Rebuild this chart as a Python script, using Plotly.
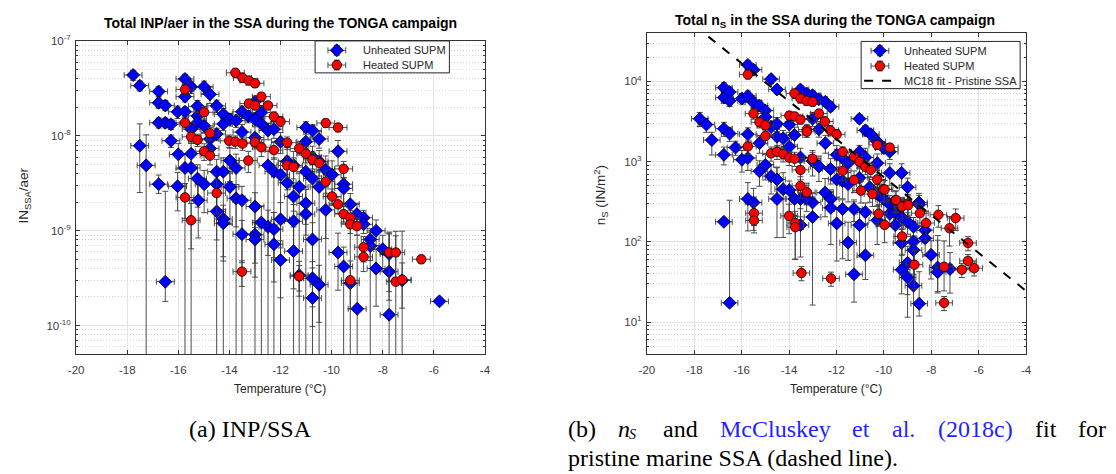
import plotly.graph_objects as go

# ---------------- Panel (a): INP per aerosol (IN_SSA/aer) ----------------
a_unh_T = [-17.77, -17.51, -16.77, -16.77, -16.51, -16.77, -16.51, -16.29, -16.29, -17.51,
           -17.26, -16.03, -16.00, -15.74, -15.74, -15.74, -15.74, -16.77, -16.03, -15.50,
           -15.50, -15.50, -15.50, -15.25, -15.25, -15.25, -15.25, -14.99, -14.99, -14.99,
           -14.76, -14.76, -14.76, -14.50, -14.50, -14.50, -14.50, -14.24, -14.24, -14.24,
           -13.98, -13.98, -13.98, -13.74, -13.74, -13.51, -13.51, -13.26, -13.00, -13.00,
           -13.00, -12.75, -12.75, -12.49, -12.49, -12.26, -12.26, -12.00, -12.00, -11.74,
           -11.74, -11.49, -11.27, -11.01, -11.01, -11.01, -10.75, -10.75, -10.75, -10.49,
           -10.49, -10.49, -10.23, -9.98, -9.75, -9.53, -16.51, -15.22, -14.50, -14.24,
           -14.24, -13.74, -13.51, -13.51, -13.00, -13.00, -13.00, -12.75, -12.49, -12.26,
           -12.26, -12.00, -12.00, -11.49, -11.49, -11.27, -11.01, -11.01, -10.75, -10.75,
           -10.75, -10.49, -10.23, -9.75, -9.53, -9.53, -9.27, -9.27, -9.01, -9.00,
           -8.75, -8.75, -8.49, -8.49, -8.26, -8.26, -8.00, -7.75, -7.75, -7.75,
           -7.24, -5.78, -11.49]
a_unh_val = [4.4e-8, 3.4e-8, 2.95e-8, 2.24e-8, 2.1e-8, 1.38e-8, 1.38e-8, 1.33e-8, 8.9e-9, 7.9e-9,
             4.9e-9, 1.8e-8, 6.4e-9, 4.0e-8, 2.6e-8, 1.8e-8, 4.6e-9, 3.1e-9, 2.95e-9, 3.3e-8,
             1.18e-8, 6.5e-9, 4.6e-9, 2.06e-8, 1.63e-8, 1.39e-8, 3.55e-9, 3.3e-8, 1.28e-8, 3.1e-9,
             2.75e-8, 9.3e-9, 7.4e-9, 2.08e-8, 1.05e-8, 4.2e-9, 3.1e-9, 1.7e-8, 1.34e-8, 4.2e-9,
             1.5e-8, 5.5e-9, 2.9e-9, 1.45e-8, 4.6e-9, 1.8e-8, 1.1e-8, 1.62e-8, 2.3e-8, 1.5e-8,
             9.6e-9, 1.77e-8, 1.35e-8, 1.14e-8, 4.9e-9, 1.18e-8, 4.2e-9, 8.7e-9, 3.9e-9, 5.4e-9,
             3.2e-9, 4.9e-9, 2.9e-9, 1.23e-8, 8.7e-9, 4.2e-9, 1.14e-8, 6.0e-9, 3.55e-9, 9.3e-9,
             5.4e-9, 2.9e-9, 4.4e-9, 3.9e-9, 6.9e-9, 3.1e-9, 2.9e-10, 2.1e-9, 1.6e-9, 1.33e-9,
             1.2e-9, 2.2e-9, 2.1e-9, 9.2e-10, 1.8e-9, 9.1e-10, 8.1e-10, 1.22e-9, 1.1e-9, 1.04e-9,
             7.2e-10, 1.32e-9, 4.9e-10, 1.26e-9, 6.1e-10, 3.4e-10, 1.95e-9, 1.5e-9, 8.1e-10, 3.15e-10,
             1.95e-10, 2.7e-10, 1.66e-9, 5.9e-10, 4.2e-10, 2.8e-9, 1.9e-9, 2.8e-10, 1.5e-9, 1.5e-10,
             1.37e-9, 1.17e-9, 8.1e-10, 6.9e-10, 1.0e-9, 4.0e-10, 6.4e-10, 5.7e-10, 3.7e-10, 1.3e-10,
             3.0e-10, 1.8e-10, 2.3e-9]
# relative upper / lower uncertainty (1.0 = lower bound at or below zero)
a_unh_up = [0.12, 0.12, 0.12, 0.12, 0.12, 0.12, 0.12, 0.12, 0.15, 0.70,
            1.10, 0.15, 0.30, 0.12, 0.12, 0.12, 0.40, 0.25, 0.40, 0.15,
            0.15, 0.30, 0.35, 0.15, 0.15, 0.15, 0.40, 0.15, 0.15, 0.40,
            0.20, 0.20, 0.20, 0.15, 0.15, 0.35, 0.40, 0.15, 0.15, 0.40,
            0.15, 0.35, 0.40, 0.15, 0.40, 0.15, 0.20, 0.15, 0.15, 0.15,
            0.30, 0.15, 0.15, 0.20, 0.40, 0.20, 0.40, 0.25, 0.40, 0.40,
            0.50, 0.40, 0.40, 0.15, 0.30, 0.40, 0.15, 0.30, 0.40, 0.20,
            0.30, 0.50, 0.40, 0.40, 0.30, 0.40, 8.00, 0.50, 0.50, 0.40,
            0.40, 0.40, 0.40, 0.40, 0.40, 0.40, 0.50, 0.50, 0.50, 0.50,
            0.50, 0.50, 0.60, 0.50, 0.80, 0.40, 0.40, 0.40, 0.50, 0.50,
            0.50, 0.60, 0.50, 0.60, 0.60, 0.30, 0.30, 3.00, 0.30, 5.00,
            0.20, 0.20, 0.30, 0.40, 0.30, 0.60, 0.40, 0.70, 1.50, 2.00,
            2.30, 0.08, 0.30]
a_unh_lo = [0.12, 0.12, 0.12, 0.12, 0.12, 0.12, 0.12, 0.12, 0.15, 0.68,
            1.00, 0.15, 0.30, 0.12, 0.12, 0.12, 1.00, 0.20, 0.45, 0.15,
            0.15, 0.30, 1.00, 0.15, 0.15, 0.15, 0.50, 0.15, 0.15, 0.50,
            0.20, 0.20, 0.20, 0.15, 0.15, 0.45, 1.00, 0.15, 0.15, 1.00,
            0.15, 0.40, 0.60, 0.15, 1.00, 0.15, 0.20, 0.15, 0.15, 0.15,
            1.00, 0.15, 0.15, 0.20, 1.00, 0.20, 1.00, 0.25, 1.00, 0.50,
            0.60, 1.00, 1.00, 0.15, 0.30, 1.00, 0.15, 0.30, 1.00, 0.20,
            0.30, 1.00, 1.00, 0.50, 0.30, 0.60, 0.38, 0.60, 0.50, 0.60,
            0.60, 0.50, 1.00, 0.50, 0.40, 0.50, 0.60, 1.00, 0.50, 0.50,
            0.60, 0.50, 0.60, 0.50, 0.60, 0.40, 0.40, 0.40, 0.50, 0.50,
            0.50, 0.60, 0.50, 0.60, 1.00, 0.30, 0.30, 1.00, 0.30, 1.00,
            0.20, 0.20, 0.40, 1.00, 0.30, 0.60, 0.40, 0.60, 0.50, 1.00,
            1.00, 0.08, 0.30]

a_heat_T = [-13.77, -13.49, -13.24, -13.00, -12.75, -13.24, -13.00, -12.49, -12.26, -12.00,
            -10.23, -9.75, -15.74, -15.74, -15.50, -15.25, -14.99, -14.76, -14.99, -14.76,
            -14.01, -13.77, -13.49, -13.00, -12.75, -12.26, -13.26, -11.74, -11.27, -11.01,
            -10.75, -10.49, -11.74, -11.49, -10.23, -9.53, -9.98, -9.75, -15.74, -14.50,
            -15.50, -13.51, -11.27, -9.53, -9.27, -9.27, -9.01, -8.75, -8.75, -9.27,
            -7.75, -7.49, -7.49, -7.24, -6.49]
a_heat_val = [4.65e-8, 4.1e-8, 3.85e-8, 3.6e-8, 2.6e-8, 2.2e-8, 2.1e-8, 2.1e-8, 1.6e-8, 1.42e-8,
              1.37e-8, 1.23e-8, 3.1e-8, 1.38e-8, 9.8e-9, 9.1e-9, 1.78e-8, 1.07e-8, 6.9e-9, 6.2e-9,
              8.9e-9, 8.7e-9, 8.3e-9, 8.6e-9, 7.6e-9, 7.1e-9, 5.5e-9, 8.5e-9, 7.4e-9, 6.5e-9,
              5.6e-9, 5.2e-9, 4.9e-9, 4.7e-9, 3.3e-9, 4.5e-9, 2.3e-9, 1.9e-9, 2.25e-9, 2.5e-9,
              1.29e-9, 3.7e-10, 3.3e-10, 1.5e-9, 1.37e-9, 1.17e-9, 1.12e-9, 6.7e-10, 5.3e-10, 3.0e-10,
              5.9e-10, 5.9e-10, 2.9e-10, 3.05e-10, 5.0e-10]
a_heat_up = [0.10, 0.10, 0.10, 0.10, 0.10, 0.10, 0.10, 0.10, 0.12, 0.12,
             0.10, 0.10, 0.12, 0.12, 0.15, 0.15, 0.15, 0.15, 0.20, 0.20,
             0.15, 0.15, 0.15, 0.15, 0.20, 0.20, 0.25, 0.15, 0.15, 0.20,
             0.20, 0.20, 0.25, 0.25, 0.30, 0.20, 0.20, 0.20, 0.40, 0.40,
             0.50, 0.30, 0.30, 0.20, 0.20, 0.20, 0.20, 0.30, 0.30, 0.60,
             0.60, 0.50, 2.40, 0.50, 0.10]
a_heat_lo = [0.10, 0.10, 0.10, 0.10, 0.10, 0.10, 0.10, 0.10, 0.12, 0.12,
             0.10, 0.10, 0.12, 0.12, 0.15, 0.15, 0.15, 0.15, 0.20, 0.20,
             0.15, 0.15, 0.15, 0.15, 0.20, 0.20, 0.25, 0.15, 0.15, 0.20,
             0.20, 0.20, 0.25, 0.25, 0.30, 0.20, 0.20, 0.20, 0.40, 0.40,
             0.50, 0.30, 0.30, 0.20, 0.20, 0.20, 0.20, 0.30, 0.30, 0.50,
             0.50, 0.50, 1.00, 0.50, 0.10]

# ---------------- Panel (b): ice-active surface site density n_S ----------------
b_unh_T = [-17.77, -17.49, -17.26, -16.75, -16.75, -16.51, -16.51, -16.75, -16.51, -16.75,
           -16.26, -15.99, -15.99, -15.74, -15.74, -15.74, -15.74, -15.50, -15.50, -15.25,
           -15.25, -15.25, -15.00, -15.00, -15.00, -14.76, -14.76, -14.76, -14.51, -14.51,
           -14.51, -14.51, -14.25, -13.99, -13.99, -13.77, -13.52, -13.52, -13.26, -13.01,
           -13.01, -13.01, -12.74, -12.74, -12.74, -12.47, -12.47, -12.25, -12.25, -11.99,
           -11.99, -11.74, -11.74, -11.51, -11.51, -11.03, -11.03, -10.78, -10.78, -10.55,
           -10.28, -10.28, -10.00, -9.75, -9.75, -9.25, -9.00, -8.52, -11.03, -10.60,
           -10.18, -16.75, -16.51, -15.74, -15.50, -14.51, -14.25, -13.99, -13.77, -13.52,
           -13.52, -13.01, -13.01, -12.48, -12.24, -12.24, -11.99, -11.74, -11.51, -11.26,
           -11.26, -11.03, -10.78, -10.78, -10.28, -10.28, -10.00, -9.75, -9.75, -9.52,
           -9.52, -9.25, -9.25, -9.25, -9.00, -9.00, -9.00, -8.75, -8.75, -8.75,
           -8.75, -8.51, -8.51, -8.26, -8.26, -8.01, -7.73, -7.73, -7.21, -13.26,
           -9.48, -9.25]
b_unh_val = [3430, 2900, 1860, 8350, 6300, 7400, 5740, 2580, 2240, 1217,
             1500, 6140, 1060, 16100, 6600, 2200, 1110, 14000, 5480, 5000,
             1700, 760, 4340, 3600, 910, 10700, 2700, 660, 7950, 2960,
             2040, 600, 1960, 2900, 1540, 2150, 7950, 1130, 7100, 6740,
             3430, 1020, 6020, 2530, 870, 5580, 1700, 4840, 810, 1220,
             600, 1110, 575, 960, 525, 3430, 1330, 2460, 1130, 2200,
             1780, 960, 1480, 1330, 725, 725, 480, 310, 630, 480,
             376, 178, 17.4, 343, 310, 343, 455, 441, 343, 343,
             162, 310, 204, 412, 343, 266, 170, 257, 98, 257,
             39.5, 162, 235, 68, 400, 186, 343, 292, 224, 235,
             162, 204, 97, 45, 178, 55, 36, 155, 101, 79,
             28.5, 292, 17, 140, 111, 69, 48, 42, 46, 343,
             288, 275]
b_unh_up = [0.20, 0.20, 0.25, 0.15, 0.15, 0.15, 0.15, 0.20, 0.20, 0.25,
            0.20, 0.15, 0.30, 0.12, 0.15, 0.20, 0.30, 0.12, 0.15, 0.15,
            0.25, 0.35, 0.15, 0.20, 0.35, 0.12, 0.20, 0.40, 0.12, 0.20,
            0.25, 0.40, 0.25, 0.20, 0.25, 0.25, 0.12, 0.30, 0.12, 0.12,
            0.20, 0.35, 0.12, 0.20, 0.35, 0.12, 0.25, 0.12, 0.35, 0.30,
            0.40, 0.30, 0.40, 0.35, 0.40, 0.12, 0.20, 0.15, 0.30, 0.15,
            0.20, 0.30, 0.15, 0.20, 0.30, 0.30, 0.30, 0.30, 0.30, 0.35,
            0.40, 0.10, 18.0, 0.60, 0.50, 1.50, 0.60, 0.30, 0.30, 0.30,
            0.60, 0.30, 0.70, 0.50, 0.30, 0.60, 0.50, 0.30, 0.80, 0.30,
            7.00, 0.60, 0.30, 1.50, 0.30, 0.50, 0.30, 0.30, 0.30, 0.30,
            0.40, 0.30, 0.50, 0.50, 0.30, 0.60, 0.60, 0.30, 0.50, 0.50,
            2.00, 0.30, 1.50, 0.30, 0.40, 0.50, 1.50, 1.50, 0.60, 0.30,
            0.25, 0.25]
b_unh_lo = [0.20, 0.20, 0.35, 0.15, 0.15, 0.15, 0.15, 0.20, 0.20, 0.25,
            0.20, 0.15, 0.30, 0.12, 0.15, 0.20, 0.30, 0.12, 0.15, 0.15,
            0.25, 0.35, 0.15, 0.20, 0.35, 0.12, 0.20, 0.40, 0.12, 0.20,
            0.25, 0.40, 0.25, 0.20, 0.25, 0.25, 0.12, 0.30, 0.12, 0.12,
            0.20, 0.35, 0.12, 0.20, 0.35, 0.12, 0.25, 0.12, 0.35, 0.30,
            0.40, 0.30, 0.40, 0.35, 0.40, 0.12, 0.20, 0.15, 0.30, 0.15,
            0.20, 0.30, 0.15, 0.20, 0.30, 0.30, 0.30, 0.30, 0.30, 0.35,
            0.40, 0.10, 0.10, 0.60, 0.55, 0.67, 0.75, 0.50, 0.40, 0.40,
            0.60, 0.30, 0.92, 0.50, 0.30, 0.65, 0.66, 0.76, 0.40, 0.30,
            0.55, 0.60, 0.30, 0.50, 0.30, 0.50, 0.30, 0.30, 0.30, 0.30,
            0.40, 0.30, 0.50, 0.50, 0.30, 0.60, 0.68, 0.30, 0.50, 0.50,
            1.00, 0.30, 0.30, 0.30, 0.40, 0.50, 0.50, 0.45, 0.50, 0.30,
            0.25, 0.25]

b_heat_T = [-15.74, -15.50, -15.25, -15.00, -15.00, -15.74, -13.77, -13.52, -13.26, -13.01,
            -12.74, -12.49, -13.25, -13.25, -13.99, -13.77, -13.52, -12.26, -11.99, -14.76,
            -14.51, -14.25, -13.99, -13.77, -13.01, -13.52, -11.74, -11.74, -11.26, -11.03,
            -10.78, -10.55, -13.52, -13.25, -11.26, -10.28, -10.03, -10.28, -9.75, -9.52,
            -9.00, -15.48, -15.48, -14.00, -13.74, -13.74, -13.48, -12.23, -10.97, -10.48,
            -10.22, -9.97, -9.97, -9.48, -9.23, -8.97, -9.23, -8.71, -8.48, -8.22,
            -7.70, -7.46, -7.46, -7.23, -6.97, -6.45, -6.45, -6.71, -6.19]
b_heat_val = [12200, 3980, 3100, 2840, 2090, 1550, 7100, 6140, 5740, 5580,
              3980, 3170, 2510, 2360, 3760, 3670, 3350, 2460, 2190, 1270,
              1330, 1240, 1120, 1090, 1090, 790, 1330, 770, 1160, 1000,
              860, 790, 500, 415, 590, 600, 455, 1620, 1500, 330,
              300, 228, 185, 211, 172, 153, 41, 35, 436, 395,
              224, 450, 163, 333, 276, 288, 117, 52, 228, 172,
              218, 49, 17.4, 148, 198, 97, 58, 45, 47]
b_heat_up = [0.12, 0.15, 0.15, 0.15, 0.20, 0.20, 0.12, 0.12, 0.12, 0.12,
             0.12, 0.15, 0.15, 0.15, 0.12, 0.12, 0.12, 0.15, 0.15, 0.20,
             0.20, 0.20, 0.20, 0.20, 0.20, 0.25, 0.15, 0.25, 0.15, 0.15,
             0.20, 0.20, 0.30, 0.30, 0.30, 0.30, 0.30, 0.12, 0.12, 0.30,
             0.30, 0.30, 0.30, 0.40, 0.40, 0.40, 0.20, 0.20, 0.30, 0.30,
             0.30, 0.30, 0.40, 0.30, 0.30, 0.30, 0.40, 0.50, 0.30, 0.40,
             0.30, 1.10, 0.20, 0.40, 0.30, 0.20, 0.20, 0.20, 0.20]
b_heat_lo = [0.12, 0.15, 0.15, 0.15, 0.20, 0.20, 0.12, 0.12, 0.12, 0.12,
             0.12, 0.15, 0.15, 0.15, 0.12, 0.12, 0.12, 0.15, 0.15, 0.20,
             0.20, 0.20, 0.20, 0.20, 0.20, 0.25, 0.15, 0.25, 0.15, 0.15,
             0.20, 0.20, 0.30, 0.30, 0.30, 0.30, 0.30, 0.12, 0.12, 0.30,
             0.30, 0.30, 0.30, 0.40, 0.65, 0.60, 0.20, 0.20, 0.30, 0.30,
             0.30, 0.30, 0.40, 0.30, 0.30, 0.30, 0.40, 0.50, 0.30, 0.40,
             0.30, 0.50, 0.20, 0.40, 0.30, 0.20, 0.20, 0.20, 0.20]

# McCluskey et al. (2018) pristine SSA n_S(T) fit, straight in log space
fit_T = [-18.0, -4.0]
fit_ns = [5.0e4, 24.5]

T_halfwidth = 0.35          # horizontal (temperature) uncertainty, degC
x_ticks = [-20, -18, -16, -14, -12, -10, -8, -6, -4]

# ---------------- figure geometry (pixels) ----------------
W, H = 1116, 474
def px(x):
    return x / W
def py(y):
    return 1 - y / H

FONT = "Liberation Sans"
AX = "#333333"
TXT = "#262626"
GRID = "#e3e3e3"
MINOR = "#d2d2d2"
BLUE = "#0000ff"
RED = "#ff0000"
BAR = "#3a3a3a"
D_SIZE, C_SIZE = 10, 9.5


def errors(vals, up, lo):
    plus = [v * u for v, u in zip(vals, up)]
    minus = [v * min(l, 0.999) for v, l in zip(vals, lo)]
    return plus, minus


def series(T, vals, up, lo, color, symbol, size, xa, ya):
    plus, minus = errors(vals, up, lo)
    return go.Scatter(
        x=T, y=vals, mode="markers", xaxis=xa, yaxis=ya, showlegend=False,
        marker=dict(color=color, symbol=symbol, size=size, line=dict(color="black", width=0.8)),
        error_y=dict(type="data", symmetric=False, array=plus, arrayminus=minus,
                     color=BAR, thickness=0.9, width=3),
        error_x=dict(type="constant", value=T_halfwidth, color=BAR, thickness=0.9, width=3),
    )


fig = go.Figure()
fig.add_trace(series(a_unh_T, a_unh_val, a_unh_up, a_unh_lo, BLUE, "diamond", D_SIZE, "x", "y"))
fig.add_trace(series(a_heat_T, a_heat_val, a_heat_up, a_heat_lo, RED, "circle", C_SIZE, "x", "y"))
fig.add_trace(series(b_unh_T, b_unh_val, b_unh_up, b_unh_lo, BLUE, "diamond", D_SIZE, "x2", "y2"))
fig.add_trace(series(b_heat_T, b_heat_val, b_heat_up, b_heat_lo, RED, "circle", C_SIZE, "x2", "y2"))
fig.add_trace(go.Scatter(x=fit_T, y=fit_ns, mode="lines", xaxis="x2", yaxis="y2", showlegend=False,
                         line=dict(color="black", width=2, dash="dash")))

# ---------------- hand-built legends on a pixel-space overlay ----------------
legend_boxes = [(311, 447, 33.5, 66), (864, 1025, 34, 82)]
legend_rows = [
    # (glyph x, text x, y, label, kind)
    (333, 357, 43, "Unheated SUPM", "unh"),
    (333, 357, 58, "Heated SUPM", "heat"),
    (883, 905, 43.5, "Unheated SUPM", "unh"),
    (883, 905, 59, "Heated SUPM", "heat"),
    (883, 905, 74, "MC18 fit - Pristine SSA", "fit"),
]

shapes = []
for x0, x1, y0, y1 in legend_boxes:
    shapes.append(dict(type="rect", xref="x3", yref="y3", x0=x0, x1=x1, y0=y0, y1=y1,
                       fillcolor="white", line=dict(color=TXT, width=1), layer="below"))

ann = []
for gx, tx, gy, label, kind in legend_rows:
    if kind == "fit":
        fig.add_trace(go.Scatter(x=[gx - 16, gx + 16], y=[gy, gy], mode="lines",
                                 xaxis="x3", yaxis="y3", showlegend=False, hoverinfo="skip",
                                 line=dict(color="black", width=2, dash="dash")))
    else:
        col, sym, sz = (BLUE, "diamond", D_SIZE) if kind == "unh" else (RED, "circle", C_SIZE)
        fig.add_trace(go.Scatter(x=[gx], y=[gy], mode="markers", xaxis="x3", yaxis="y3",
                                 showlegend=False, hoverinfo="skip", cliponaxis=False,
                                 marker=dict(color=col, symbol=sym, size=sz,
                                             line=dict(color="black", width=0.8)),
                                 error_x=dict(type="constant", value=9, color=BAR, thickness=0.9, width=3),
                                 error_y=dict(type="constant", value=5, color=BAR, thickness=0.9, width=3)))
    ann.append(dict(text=label, x=px(tx), y=py(gy), xanchor="left",
                    font=dict(family=FONT, size=11, color=TXT)))

a_minor = [m * 10.0 ** e for e in range(-11, -7) for m in range(2, 10)]
b_minor = [m * 10.0 ** e for e in range(0, 5) for m in range(2, 10)]

common_x = dict(range=[-20, -4], tickvals=x_ticks, ticktext=[str(t) for t in x_ticks],
                showgrid=True, gridcolor=GRID, gridwidth=1, zeroline=False,
                showline=True, linecolor=AX, linewidth=1, mirror="ticks",
                ticks="inside", ticklen=4, tickcolor=AX, ticklabelstandoff=5,
                tickfont=dict(family=FONT, size=11.5, color="#404040"))
common_y = dict(type="log", showgrid=True, gridcolor=GRID, gridwidth=1, zeroline=False,
                showline=True, linecolor=AX, linewidth=1, mirror="ticks",
                ticks="inside", ticklen=4, tickcolor=AX, ticklabelstandoff=2,
                tickfont=dict(family=FONT, size=11.5, color="#404040"))
minor_style = dict(showgrid=True, gridcolor=MINOR, griddash="1px,2px",
                   ticks="inside", ticklen=2, tickcolor=AX)

fig.update_layout(
    width=W, height=H, margin=dict(l=0, r=0, t=0, b=0),
    paper_bgcolor="white", plot_bgcolor="rgba(0,0,0,0)", showlegend=False,
    xaxis=dict(domain=[px(69), px(483)], anchor="y", **common_x),
    yaxis=dict(domain=[py(352), py(33.8)], anchor="x",
               range=[-10.30103, -7],
               tickvals=[1e-10, 1e-9, 1e-8, 1e-7],
               ticktext=["10<sup>-10</sup>", "10<sup>-9</sup>", "10<sup>-8</sup>", "10<sup>-7</sup>"],
               minor=dict(tickvals=a_minor, **minor_style), **common_y),
    xaxis2=dict(domain=[px(647), px(1031)], anchor="y2", **common_x),
    yaxis2=dict(domain=[py(352), py(25.6)], anchor="x2",
                range=[0.60206, 4.60206],
                tickvals=[10, 100, 1000, 10000],
                ticktext=["10<sup>1</sup>", "10<sup>2</sup>", "10<sup>3</sup>", "10<sup>4</sup>"],
                minor=dict(tickvals=b_minor, **minor_style), **common_y),
    xaxis3=dict(domain=[0, 1], range=[0, W], visible=False, anchor="y3"),
    yaxis3=dict(domain=[0, 1], range=[H, 0], visible=False, anchor="x3"),
    shapes=shapes,
)

# panel titles
ann.append(dict(text="<b>Total INP/aer in the SSA during the TONGA campaign</b>",
                x=px(276), y=py(15), font=dict(family=FONT, size=14, color="black")))
ann.append(dict(text="<b>Total n<sub>S</sub> in the SSA during the TONGA campaign</b>",
                x=px(838), y=py(13), font=dict(family=FONT, size=14, color="black")))
# axis labels
ann.append(dict(text="Temperature (°C)", x=px(275), y=py(388),
                font=dict(family=FONT, size=12, color=TXT)))
ann.append(dict(text="Temperature (°C)", x=px(839), y=py(388),
                font=dict(family=FONT, size=12, color=TXT)))
ann.append(dict(text="IN<sub>SSA</sub>/aer", x=px(17), y=py(191), textangle=-90,
                font=dict(family=FONT, size=13.5, color=TXT)))
ann.append(dict(text="n<sub>S</sub> (IN/m<sup>2</sup>)", x=px(600), y=py(190), textangle=-90,
                font=dict(family=FONT, size=13.5, color=TXT)))

# sub-figure captions (first line of caption b is justified word by word)
CAP = dict(family="Liberation Serif", size=24, color="black")
LINK = dict(family="Liberation Serif", size=24, color="#1f1fff")
SUB = dict(family="Liberation Serif", size=14, color="black")
ann.append(dict(text="(a) INP/SSA", x=px(246), y=py(428), font=CAP))
line1 = [("(b)", 565, CAP), ("<i>n</i>", 616, CAP), ("and", 661, CAP),
         ("McCluskey", 719, LINK), ("et", 853, LINK), ("al.", 893, LINK),
         ("(2018c)", 940, LINK), ("fit", 1038, CAP), ("for", 1082, CAP)]
for txt, x0, f in line1:
    ann.append(dict(text=txt, x=px(x0), y=py(428), xanchor="left", font=f))
ann.append(dict(text="<i>S</i>", x=px(627), y=py(433.5), xanchor="left", font=SUB))
ann.append(dict(text="pristine marine SSA (dashed line).", x=px(565), y=py(458),
                xanchor="left", font=CAP))

for a in ann:
    a.setdefault("xanchor", "center")
    a.update(xref="paper", yref="paper", yanchor="middle", showarrow=False)
fig.update_layout(annotations=ann)

fig.write_html("out.html")
